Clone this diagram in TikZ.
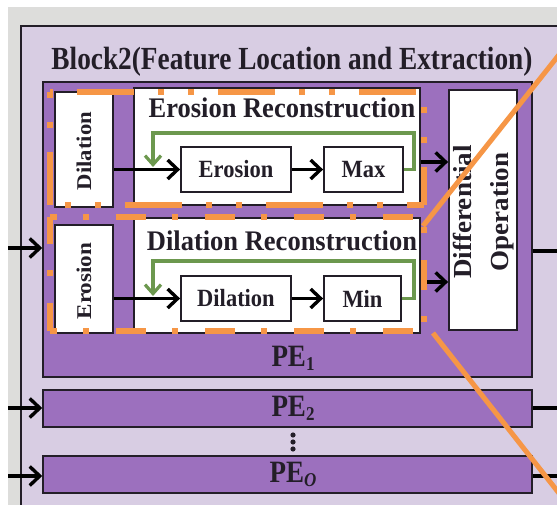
\documentclass[tikz,border=0pt]{standalone}
\usepackage{fontspec}
\usepackage{graphicx}
\setmainfont{Liberation Serif}
\usetikzlibrary{arrows.meta,calc}
\definecolor{bggrey}{RGB}{221,221,219}
\definecolor{lav}{RGB}{216,205,227}
\definecolor{pefill}{RGB}{156,112,190}
\definecolor{bord}{RGB}{35,30,40}
\definecolor{orng}{RGB}{246,150,70}
\definecolor{grn}{RGB}{108,152,78}
\newcommand\pesub[1]{\raisebox{-0.35ex}{\fontsize{17}{17}\selectfont #1}}
\newcommand\vsc[2]{\scalebox{1}[#1]{#2}}
\newcommand\hsc[2]{\scalebox{#1}[1]{#2}}
\begin{document}
\begin{tikzpicture}[x=1pt,y=-1pt,
  bx/.style={draw=bord, line width=1.8pt, fill=white, inner sep=0pt},
  pebox/.style={draw=bord, line width=1.6pt, fill=pefill, inner sep=0pt},
  ttl/.style={font=\bfseries\fontsize{27.3}{30}\selectfont, text=bord},
  rtitle/.style={font=\bfseries\fontsize{26.5}{28}\selectfont, text=bord},
  lab/.style={font=\bfseries\fontsize{22.5}{24}\selectfont, text=bord},
  vlab/.style={font=\bfseries\fontsize{21}{24}\selectfont, text=bord},
  pelab/.style={font=\bfseries\fontsize{27}{30}\selectfont, text=bord},
  arr/.style={draw=black, line width=3.4pt, -{Straight Barb[length=10pt,width=19pt]}},
  garr/.style={draw=grn, line width=3.2pt, -{Straight Barb[length=9pt,width=16pt]}},
  ln/.style={draw=black, line width=3.2pt},
  orA/.style={draw=orng, line width=6pt, dash pattern=on 57pt off 24pt on 6pt off 24pt on 6pt off 24pt},
  orB/.style={draw=orng, line width=6pt, dash pattern=on 30pt off 26pt on 6pt off 27pt},
  orline/.style={draw=orng, line width=5pt}
]
\useasboundingbox (0,0) rectangle (557,505);
\begin{scope}
\clip (0,0) rectangle (557,505);
\fill[white] (0,0) rectangle (557,505);
\fill[bggrey] (8,7) rectangle (557,505);
\draw[draw=bord, line width=1.4pt, fill=lav] (21,26) rectangle (600,540);

\node[ttl, anchor=base] (title) at (292,70) {\vsc{1.18}{Block2(Feature Location and Extraction)}};

% PE boxes
\node[pebox, minimum width=489pt, minimum height=295pt] (pe1) at (287.5,229.5) {};
\node[pebox, minimum width=489pt, minimum height=37pt] (pe2) at (287.5,408.5) {};
\node[pebox, minimum width=489pt, minimum height=37pt] (peo) at (287.5,474.5) {};
\node[pelab, anchor=base] (pe1lab) at (293,366) {\vsc{1.15}{PE\pesub{1}}};
\node[pelab, anchor=base] (pe2lab) at (293,416) {\vsc{1.15}{PE\pesub{2}}};
\node[pelab, anchor=base] (peolab) at (293,482) {\vsc{1.15}{PE\pesub{\textit{O}}}};
\fill[bord] (293,435) circle (2.6pt);
\fill[bord] (293,442) circle (2.6pt);
\fill[bord] (293,449) circle (2.6pt);

% upper branch
\node[bx, minimum width=58pt, minimum height=115pt] (dil1) at (84,149.5) {};
\node[vlab, rotate=90] (dil1lab) at (84,151) {\hsc{1.08}{Dilation}};
\node[bx, minimum width=286pt, minimum height=117pt] (er) at (277,146.5) {};
\node[rtitle, anchor=base] (ertitle) at (282,118) {\vsc{1.07}{Erosion Reconstruction}};
\node[bx, lab, minimum width=110pt, minimum height=45pt] (ero) at (236,169.5) {\vsc{1.1}{Erosion}};
\node[bx, lab, minimum width=79pt, minimum height=45pt] (max) at (363.5,169.5) {\vsc{1.1}{Max}};

% lower branch
\node[bx, minimum width=58pt, minimum height=108pt] (ero1) at (84,279) {};
\node[vlab, rotate=90] (ero1lab) at (84,281) {\hsc{1.1}{Erosion}};
\node[bx, minimum width=286pt, minimum height=115pt] (dr) at (277,275.5) {};
\node[rtitle, anchor=base] (drtitle) at (282,251) {\vsc{1.07}{Dilation Reconstruction}};
\node[bx, lab, minimum width=110pt, minimum height=45pt] (dil) at (236,298.5) {\vsc{1.1}{Dilation}};
\node[bx, lab, minimum width=77pt, minimum height=45pt] (min) at (362.5,298.5) {\vsc{1.1}{Min}};

% differential
\node[bx, minimum width=68pt, minimum height=240pt] (diff) at (483,210) {};
\node[rotate=90, text=bord, font=\bfseries\fontsize{26}{37}\selectfont] (difflab) at (483,212) {\hsc{1.04}{\begin{tabular}{@{}c@{}}Differential\\Operation\end{tabular}}};

% arrows
\draw[arr] (dil1.east |- ero.west) -- (ero.west);
\draw[arr] (ero.east) -- (max.west);
\draw[arr] (ero1.east |- dil.west) -- (dil.west);
\draw[arr] (dil.east) -- (min.west);
\coordinate (g1) at (153,133);
\coordinate (g1e) at (153,167);
\draw[garr] (max.east) -- ++(10,0) |- (g1) -- (g1e);
\coordinate (g2) at (153,261);
\coordinate (g2e) at (153,296);
\draw[garr] (min.east) -- ++(12,0) |- (g2) -- (g2e);
\coordinate (d1) at (449,162);
\coordinate (d2) at (449,282);
\draw[arr] (er.east |- d1) -- (diff.west |- d1);
\draw[arr] (dr.east |- d2) -- (diff.west |- d2);

\coordinate (i1) at (8,248);
\coordinate (i2) at (8,408);
\coordinate (i3) at (8,476);
\draw[arr] (i1) -- (pe1.west |- i1);
\draw[arr] (i2) -- (pe2.west |- i2);
\draw[arr] (i3) -- (peo.west |- i3);
\coordinate (o1) at (562,251);
\coordinate (o2) at (562,408);
\coordinate (o3) at (562,476);
\draw[ln] (pe1.east |- o1) -- (o1);
\draw[ln] (pe2.east |- o2) -- (o2);
\draw[ln] (peo.east |- o3) -- (o3);

% orange dash-dot frames
\draw[orA, dash phase=114pt] (50,92) -- (424,92);
\draw[orA, dash phase=66pt] (424,92) -- (424,205);
\draw[orA, dash phase=40pt] (424,205) -- (50,205);
\draw[orA, dash phase=81pt] (50,92) -- (50,205);
\draw[orB, dash phase=23pt] (50,217) -- (424,217);
\draw[orB, dash phase=23pt] (50,331) -- (424,331);
\draw[orB, dash phase=46pt] (424,217) -- (424,331);
\draw[orB, dash phase=3pt] (50,217) -- (50,331);
\draw[orline] (423,226) -- (562,51);
\draw[orline] (433,333) -- (562,497);
\end{scope}
\end{tikzpicture}
\end{document}
